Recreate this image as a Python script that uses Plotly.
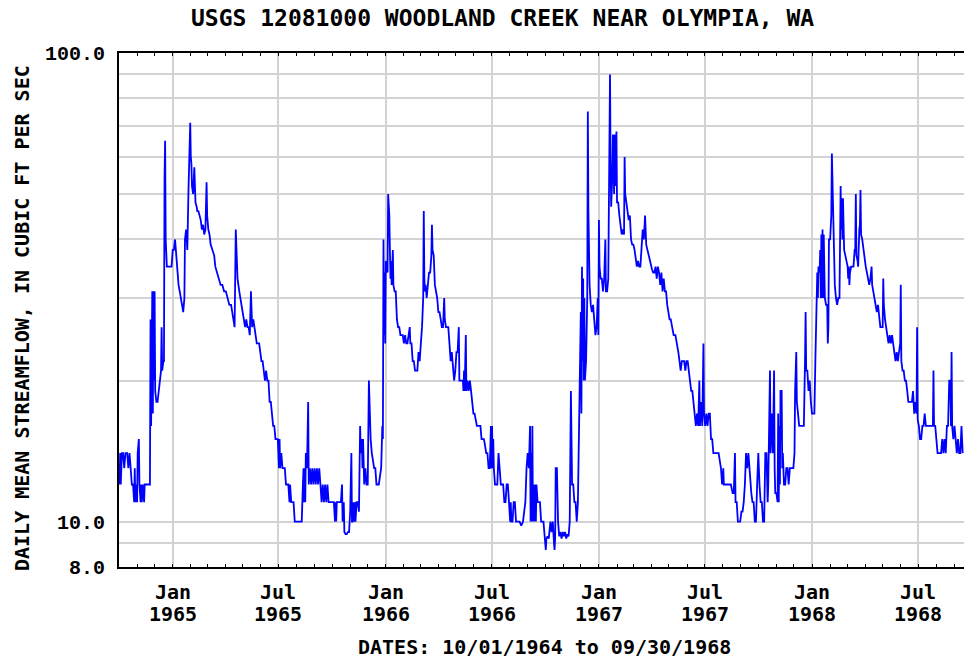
import math
import pandas as pd
import plotly.graph_objects as go

# ---------------- data (day offset from 1964-10-01, daily mean flow in cfs) ----------------
START_DATE = "1964-10-01"

wy1965 = [(0,13),(1,12),(2,14),(3,12),(4,13),(5,14),(7,14),(9,13),(11,14),(14,14),
          (16,13),(18,14),(20,13),(22,12),(24,12),(26,11),(27,13),(28,11),(30,12),(31,11),
          (32,14),(34,15),(35,12),(37,11),(38,12),(39,11),(41,12),(43,11),(44,12),(47,12),
          (50,12),(53,12),(54,27),(55,16),(56,22),(57,31),(58,17),(59,31),(60,20),(61,31),
          (62,19),(64,18),(66,18),(68,19),(70,20),(72,21),(73,26),(74,21),(76,22),(77,22),
          (78,54),(79,65),(80,40),(81,37),(82,35),(84,35),(87,35),(90,35),(92,38),(94,38),
          (96,40),(98,37),(100,33),(102,32),(104,31),(106,30),(108,29),(110,28),(112,30),(113,40),
          (115,42),(117,38),(119,51),(121,65),(122,71),(123,60),(124,58),(125,52),(127,50),(129,57),
          (131,48),(133,47),(134,46),(136,46),(138,45),(140,44),(142,42),(144,43),(146,41),(148,42),
          (150,53),(151,45),(153,42),(155,41),(157,39),(160,38),(163,37),(165,35),(168,34),(171,33),
          (174,32),(177,32),(180,31),(183,31),(186,30),(189,29),(192,29),(194,28),(196,27),(198,26),
          (200,42),(201,38),(203,33),(206,31),(208,30),(210,29),(212,28),(214,27),(216,26),(218,27),
          (220,26),(222,26),(224,25),(226,31),(228,26),(230,27),(232,26),(234,25),(236,24),(238,24),
          (240,24),(242,23),(244,22),(246,22),(248,21),(250,20),(252,21),(254,20),(256,20),(258,18),
          (260,18),(262,17),(264,16),(266,16),(268,15),(270,15),(272,15),(274,13),(275,15),(276,13),
          (278,14),(280,13),(282,13),(284,13),(286,12),(288,12),(290,12),(292,11),(293,12),(295,11),
          (297,11),(299,11),(301,10),(304,10),(307,10),(310,10),(313,10),(315,12),(316,13),(317,11),
          (318,13),(319,11),(320,14),(322,13),(324,18),(325,12),(327,13),(329,12),(331,13),(333,12),
          (335,13),(337,12),(339,13),(341,12),(343,13),(345,12),(347,11),(349,12),(351,11),(353,12),
          (355,11),(357,12),(359,11),(362,11)]

wy1966 = [(365,11),(368,11),(370,10),(371,11),(372,10),(373,11),(375,11),(378,11),(380,11),(382,12),
          (383,10),(385,11),(386,9.5),(388,9.4),(390,9.4),(392,9.5),(394,9.5),(396,10.5),(398,14),(399,10),
          (400,10),(401,11),(402,10),(404,11),(405,10),(407,11),(409,11),(411,10.5),(412,15),(413,16),
          (414,14),(416,15),(417,13),(418,15),(420,12),(422,13),(424,12),(426,12),(428,20),(429,17),
          (431,15),(433,14),(435,13.5),(437,13),(439,13),(441,12),(443,12),(445,12),(447,12.5),(449,13),
          (451,16),(452,15),(453,40),(454,25),(455,34),(456,24),(457,36),(459,34),(460,34),(461,50),
          (463,45),(464,38),(465,33),(466,36),(467,32),(469,38),(470,32),(472,31),(474,31),(476,27),
          (478,26),(480,26),(482,25),(484,25),(486,25),(488,24),(490,25),(492,24),(494,24),(496,25),
          (498,26),(499,24),(501,24),(503,22),(505,22),(507,21),(509,21),(511,21),(513,23),(515,22),
          (517,24),(519,26),(521,30),(522,46),(523,33),(524,31),(525,32),(527,30),(529,32),(531,34),
          (533,34),(535,37),(536,43),(537,38),(539,37),(541,32),(543,31),(545,30),(547,28),(549,28),
          (551,27),(553,26),(555,26),(557,30),(558,27),(560,26),(562,26),(564,26),(566,24),(568,22),
          (570,23),(572,21),(574,20),(576,21),(578,23),(580,23),(582,26),(583,20),(585,20),(587,20),
          (589,20),(590,19),(591,21),(592,19),(594,25),(595,19),(597,20),(599,19),(601,20),(603,19),
          (605,18),(607,17),(609,17),(611,16.5),(613,16),(616,16),(619,16),(621,15),(623,15),(625,15),
          (627,14.5),(629,14),(631,14),(633,13),(635,13),(637,16),(638,13),(639,16),(640,13),(641,15),
          (642,13),(644,12),(646,12),(648,12),(650,14),(652,13),(654,12),(656,12),(658,12),(660,11),
          (662,11),(664,12),(666,12),(668,11),(670,10),(671,11),(672,10),(674,10),(676,11),(678,11),
          (680,10),(683,10),(686,10),(689,9.8),(692,10),(694,10.5),(696,11),(698,13),(700,14),(702,13),
          (704,16),(705,10),(706,14),(707,10),(708,16),(709,10),(710,12),(711,10),(712,12),(714,10),
          (715,12),(717,11),(719,11),(721,11),(723,10),(725,10),(727,10)]

wy1967 = [(730,9),(731,8.7),(732,9.2),(734,9.3),(736,9.2),(737,9.5),(739,10),(741,9.5),(743,10),(745,9),
          (746,8.7),(747,9.2),(748,13),(750,13),(752,10),(754,9.3),(756,9.5),(758,9.2),(760,9.5),(762,9.3),
          (764,9.5),(766,9.2),(768,9.4),(770,9.3),(772,10),(774,19),(775,16),(776,12),(778,12),(780,11),
          (782,11),(784,10),(786,11),(787,14),(789,18),(790,22),(791,28),(792,17),(793,35),(794,22),
          (795,33),(796,20),(797,30),(798,20),(800,22),(802,30),(803,75),(804,46),(805,34),(806,32),
          (808,29),(810,28),(812,29),(814,27),(816,25),(818,26),(820,30),(821,25),(822,44),(823,35),
          (825,33),(827,33),(829,31),(831,33),(833,40),(834,31),(836,31),(838,33),(840,81),(841,90),
          (842,58),(843,47),(845,55),(846,67),(848,50),(849,67),(850,52),(852,68),(853,48),(855,48),
          (857,45),(859,43),(861,41),(863,42),(865,41),(866,60),(867,50),(869,48),(871,46),(873,44),
          (875,45),(877,40),(879,39),(881,39),(883,38),(885,36),(887,35),(889,36),(891,35),(893,35),
          (895,40),(897,42),(899,40),(901,45),(903,39),(905,38),(907,37),(909,36),(911,35),(913,34.5),
          (915,34),(917,34),(919,35),(921,33),(923,35),(925,34),(927,32),(929,34),(931,31),(933,33),
          (935,31),(937,31),(939,29),(941,28),(943,27),(945,27),(947,26),(950,25),(953,25),(956,24),
          (958,23),(960,22),(962,21),(964,22),(966,22),(968,22),(970,21),(972,22),(974,22),(976,21),
          (978,20),(980,19),(982,19),(984,18),(986,17),(988,16),(990,17),(992,16),(994,20),(995,16),
          (997,18),(999,16),(1001,24),(1002,17),(1004,16),(1006,17),(1008,16),(1010,17),(1012,17),(1014,15),
          (1016,15),(1018,14),(1021,14),(1024,14),(1027,14),(1029,13.5),(1031,13),(1033,12),(1035,13),(1036,12),
          (1039,12),(1042,12),(1045,12),(1048,12),(1051,11.5),(1053,11.5),(1055,14),(1056,11),(1058,11),(1060,10),
          (1062,10),(1064,10),(1066,10.5),(1068,10.5),(1070,11),(1072,12),(1074,14),(1076,13),(1078,14),(1080,13),
          (1081,12),(1083,11.5),(1085,11),(1087,11),(1089,10),(1091,10),(1093,12)]

wy1968 = [(1095,14),(1097,12),(1099,11),(1101,11),(1103,10),(1105,10),(1107,14),(1109,14),(1111,11),(1112,12),
          (1114,17),(1115,21),(1116,14),(1118,17),(1120,14),(1122,21),(1123,13),(1124,11.5),(1126,11.5),(1128,11),
          (1129,17),(1130,11),(1131,16),(1132,12),(1133,19),(1135,19),(1136,13),(1137,14),(1139,12),(1141,12),
          (1143,13),(1145,13),(1147,12),(1149,13),(1151,13),(1153,13),(1155,13),(1157,14),(1158,19),(1160,23),
          (1161,18),(1163,17),(1165,16),(1167,16),(1169,16),(1171,16),(1173,16),(1175,22),(1176,28),(1177,21),
          (1179,21),(1181,19),(1183,20),(1185,18),(1187,17),(1189,17),(1191,17),(1193,23),(1195,30),(1196,34),
          (1197,30),(1198,35),(1200,34),(1201,38),(1202,30),(1203,41),(1204,30),(1205,42),(1206,30),(1207,41),
          (1209,30),(1211,29),(1213,29),(1214,24),(1215,26),(1216,40),(1218,40),(1220,45),(1221,61),(1222,54),
          (1223,50),(1224,38),(1226,32),(1228,30),(1230,29),(1232,30),(1234,30),(1236,52),(1237,42),(1238,49),
          (1239,40),(1240,49),(1241,42),(1242,38),(1244,37),(1246,36),(1248,35),(1249,33),(1250,35),(1251,32),
          (1252,34),(1254,35),(1256,35),(1258,35),(1260,38),(1261,38),(1262,50),(1263,37),(1265,36),(1266,35),
          (1268,42),(1269,43),(1270,51),(1271,41),(1273,40),(1275,38),(1277,36),(1279,35),(1281,34),(1283,33),
          (1285,32),(1287,33),(1289,35),(1290,32),(1292,31),(1294,30),(1296,29),(1298,28),(1300,29),(1302,27),
          (1304,26),(1306,26),(1308,26),(1309,33),(1310,29),(1312,27),(1314,26),(1316,25),(1318,24),(1320,25),
          (1322,24),(1324,25),(1326,24),(1328,23),(1330,22),(1332,23),(1334,22),(1336,23),(1338,24),(1339,32),
          (1340,22),(1342,21),(1344,21),(1346,20),(1348,20),(1350,19),(1352,18),(1354,18),(1356,18),(1358,18),
          (1360,19),(1362,17),(1364,18),(1366,17),(1367,26),(1368,16.5),(1370,16),(1372,15),(1374,15),(1376,16),
          (1378,16),(1380,17),(1382,16),(1385,16),(1388,16),(1391,16),(1394,16),(1395,21),(1396,16),(1398,16),
          (1400,15),(1402,14),(1405,14),(1408,14),(1410,15),(1412,14),(1414,15),(1416,14),(1418,16),(1420,16),
          (1422,20),(1424,20),(1425,16),(1426,23),(1427,16),(1429,15),(1431,16),(1433,15),(1435,14),(1437,15),
          (1439,14),(1441,14),(1443,16),(1445,14)]

y_grid_values = [8, 9, 10, 20, 30, 40, 50, 60, 70, 80, 90, 100]
y_tick_text = ["8.0", "", "10.0", "", "", "", "", "", "", "", "", "100.0"]

x_tick_dates = ["1965-01-01", "1965-07-01", "1966-01-01", "1966-07-01",
                "1967-01-01", "1967-07-01", "1968-01-01", "1968-07-01"]
x_tick_month = ["Jan", "Jul", "Jan", "Jul", "Jan", "Jul", "Jan", "Jul"]
x_tick_year = ["1965", "1965", "1966", "1966", "1967", "1967", "1968", "1968"]

TITLE = "USGS 12081000 WOODLAND CREEK NEAR OLYMPIA, WA"
Y_TITLE = "DAILY MEAN STREAMFLOW, IN CUBIC FT PER SEC"
X_TITLE = "DATES: 10/01/1964 to 09/30/1968"

# ---------------- build ----------------
pairs = wy1965 + wy1966 + wy1967 + wy1968
days = [p[0] for p in pairs]
flow = [p[1] for p in pairs]
dates = pd.Timestamp(START_DATE) + pd.to_timedelta(days, unit="D")

MONO = "DejaVu Sans Mono"
blk = "black"

fig = go.Figure(go.Scatter(x=dates, y=flow, mode="lines",
                           line=dict(color="#0000ff", width=1.8),
                           hoverinfo="skip"))

fig.update_layout(
    width=964, height=659,
    margin=dict(l=119, r=0, t=53, b=92),
    paper_bgcolor="white", plot_bgcolor="white",
    showlegend=False,
)

fig.update_xaxes(
    type="date",
    range=["1964-10-01", "1968-09-17 07:00"],
    tickvals=x_tick_dates, showticklabels=False,
    showgrid=True, gridcolor="#d3d3d3", gridwidth=2,
    showline=True, linecolor=blk, linewidth=2, mirror="ticks",
    ticks="inside", ticklen=3, tickcolor=blk, tickwidth=1,
    minor=dict(dtick="M1", tick0="1964-10-01", ticks="inside", ticklen=3,
               tickcolor=blk, tickwidth=1, showgrid=False),
    zeroline=False,
)

fig.update_yaxes(
    type="log",
    range=[math.log10(8), 2],
    tickvals=y_grid_values, ticktext=y_tick_text,
    showgrid=True, gridcolor="#d3d3d3", gridwidth=2,
    showline=True, linecolor=blk, linewidth=2, mirror=False,
    ticks="",
    tickfont=dict(family="Liberation Mono", size=20, color=blk, weight="bold"),
    ticklabelstandoff=8,
    zeroline=False,
)

# title
fig.add_annotation(text=TITLE, xref="paper", yref="paper", x=0.4544, y=1.0675,
                   showarrow=False, xanchor="center", yanchor="middle",
                   font=dict(family=MONO, size=23, color=blk, weight="bold"))
# y-axis title
fig.add_annotation(text=Y_TITLE, xref="paper", yref="paper", x=-0.1148, y=0.4844,
                   textangle=-90, showarrow=False, xanchor="center", yanchor="middle",
                   font=dict(family=MONO, size=20, color=blk, weight="bold"))
# x-axis title
fig.add_annotation(text=X_TITLE, xref="paper", yref="paper", x=0.5032, y=-0.155,
                   showarrow=False, xanchor="center", yanchor="middle",
                   font=dict(family=MONO, size=20, color=blk, weight="bold"))

# x tick labels (two lines)
for d, m, yr in zip(x_tick_dates, x_tick_month, x_tick_year):
    fig.add_annotation(text=m, xref="x", yref="paper", x=d, y=-0.0486, height=19,
                       showarrow=False, xanchor="center", yanchor="middle",
                       font=dict(family=MONO, size=20, color=blk, weight="bold"))
    fig.add_annotation(text=yr, xref="x", yref="paper", x=d, y=-0.0895, height=19,
                       showarrow=False, xanchor="center", yanchor="middle",
                       font=dict(family=MONO, size=20, color=blk, weight="bold"))

fig.write_html("out.html",
               config={"displayModeBar": False},
               post_script="document.body.style.margin='0';"
                           "document.body.style.overflow='hidden';")
